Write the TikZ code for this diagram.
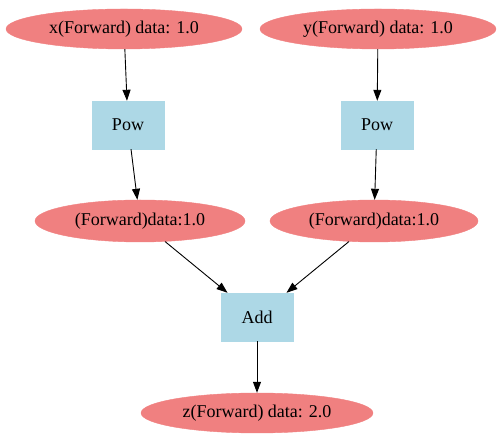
\documentclass[tikz,border=0pt]{standalone}
\usepackage{fontspec}
\setmainfont{Liberation Serif}
\usetikzlibrary{shapes.geometric,arrows.meta}
\definecolor{lcoral}{RGB}{240,128,128}
\definecolor{lblue}{RGB}{173,216,230}
\begin{document}
\begin{tikzpicture}[x=1pt,y=1pt,
  var/.style={ellipse,fill=lcoral,draw=lcoral,inner sep=0pt,minimum height=40pt,font=\fontsize{18}{21}\selectfont},
  op/.style={rectangle,fill=lblue,draw=lblue,inner sep=0pt,minimum width=72pt,minimum height=48pt,font=\fontsize{18}{21}\selectfont},
  edge/.style={-{Triangle[length=11pt,width=8pt]},line width=0.9pt}]
\useasboundingbox (0,0) rectangle (502,443);
\node[var,minimum width=236pt] (x) at (124,414) {x(Forward) data: 1.0};
\node[var,minimum width=236pt] (y) at (378,414) {y(Forward) data: 1.0};
\node[op] (p1) at (128,318) {Pow};
\node[op] (p2) at (377,318) {Pow};
\node[var,minimum width=210pt,minimum height=42pt] (f1) at (140,222) {(Forward)data:1.0};
\node[var,minimum width=208pt,minimum height=42pt] (f2) at (374,222) {(Forward)data:1.0};
\node[op] (add) at (257,126) {Add};
\node[var,minimum width=232pt] (z) at (257,30) {z(Forward) data: 2.0};
\draw[edge] (x) -- (p1);
\draw[edge] (y) -- (p2);
\draw[edge] (p1) -- (f1);
\draw[edge] (p2) -- (f2);
\draw[edge] (f1) -- (add);
\draw[edge] (f2) -- (add);
\draw[edge] (add) -- (z);
\end{tikzpicture}
\end{document}
